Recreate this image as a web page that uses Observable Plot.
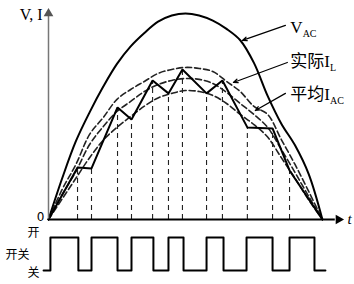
<!DOCTYPE html>
<html><head><meta charset="utf-8">
<script src="https://cdn.jsdelivr.net/npm/d3@7"></script>
<script src="https://cdn.jsdelivr.net/npm/@observablehq/plot@0.6"></script>
<style>
body{margin:0;background:#fff;}
#chart{width:354px;height:284px;}
#chart svg{display:block;overflow:visible;}
</style></head><body><div id="chart"></div>
<script>
// time grid (fraction of half-period)
const tGrid = [0,0.05,0.1,0.15,0.2,0.25,0.3,0.35,0.4,0.45,0.5,0.55,0.6,0.65,0.7,0.75,0.8,0.85,0.9,0.95,1];
// rectified line voltage V_AC
const vAC = [0,0.20,0.38,0.52,0.645,0.755,0.84,0.905,0.96,0.99,1.0,0.99,0.965,0.925,0.87,0.76,0.60,0.465,0.36,0.22,0];
// dashed envelopes (upper ripple, average I_AC, lower ripple)
const upperEnv = [0,0.146,0.267,0.413,0.495,0.583,0.631,0.670,0.709,0.728,0.738,0.733,0.718,0.670,0.621,0.549,0.510,0.388,0.267,0.136,0];
const avgIAC = [0,0.121,0.233,0.364,0.451,0.524,0.573,0.621,0.655,0.675,0.684,0.680,0.660,0.617,0.563,0.510,0.447,0.340,0.228,0.112,0];
const lowerEnv = [0,0.100,0.200,0.300,0.385,0.447,0.500,0.550,0.590,0.612,0.626,0.621,0.602,0.563,0.510,0.461,0.400,0.300,0.200,0.095,0];
// actual inductor current I_L (zigzag vertices)
const iLt = [0,0.106,0.157,0.252,0.303,0.380,0.438,0.489,0.577,0.635,0.726,0.818,0.880,1.0];
const iLv = [0,0.252,0.248,0.544,0.485,0.675,0.612,0.728,0.612,0.675,0.447,0.442,0.238,0];
// switch state (1 = 开 on, 0 = 关 off)
const swT = [-0.018,0.007,0.109,0.157,0.252,0.303,0.383,0.438,0.493,0.577,0.639,0.723,0.818,0.880,0.971,1.011];
const swState = [0,1,0,1,0,1,0,1,0,1,0,1,0,1,0,0];
// labels
const labelMain = ["V", "实际I", "平均I"];
const labelSub = ["AC", "L", "AC"];
const labelT = [0.883, 0.883, 0.883];
const labelV = [0.932, 0.767, 0.607];
// leader arrows
const leaderT1 = [0.865, 0.872, 0.865];
const leaderV1 = [0.942, 0.762, 0.612];
const leaderT2 = [0.708, 0.675, 0.755];
const leaderV2 = [0.869, 0.665, 0.529];

const xMax = 1.077, yMax = 1.024;
const serif = "Liberation Serif, Noto Sans CJK SC, serif";
const cjk = "Noto Sans CJK SC, sans-serif";

const interior = iLt.map((t,i)=>({t, v: iLv[i]})).slice(1, -1);
const labels = labelMain.map((m,i)=>({m, s: labelSub[i], t: labelT[i], v: labelV[i]}));
const leaders = leaderT1.map((t,i)=>({t1: t, v1: leaderV1[i], t2: leaderT2[i], v2: leaderV2[i]}));

const topPlot = Plot.plot({
  width: 354, height: 228,
  marginLeft: 48, marginRight: 11, marginTop: 8, marginBottom: 9,
  x: {domain: [0, xMax], axis: null},
  y: {domain: [0, yMax], axis: null},
  style: {background: "transparent", overflow: "visible"},
  marks: [
    Plot.ruleX(interior, {x: "t", y1: 0, y2: "v", stroke: "#222", strokeWidth: 1.1, strokeDasharray: "5,4"}),
    Plot.line(tGrid, {x: d=>d, y: (d,i)=>upperEnv[i], curve: "catmull-rom", stroke: "#222", strokeWidth: 1.6, strokeDasharray: "6,3"}),
    Plot.line(tGrid, {x: d=>d, y: (d,i)=>avgIAC[i], curve: "catmull-rom", stroke: "#222", strokeWidth: 1.6, strokeDasharray: "6,3"}),
    Plot.line(tGrid, {x: d=>d, y: (d,i)=>lowerEnv[i], curve: "catmull-rom", stroke: "#222", strokeWidth: 1.6, strokeDasharray: "6,3"}),
    Plot.line(tGrid, {x: d=>d, y: (d,i)=>vAC[i], curve: "catmull-rom", stroke: "#000", strokeWidth: 2}),
    Plot.line(iLt, {x: d=>d, y: (d,i)=>iLv[i], stroke: "#000", strokeWidth: 2, strokeLinejoin: "miter"}),
    Plot.ruleX([0], {y1: 0, y2: yMax - 0.03, stroke: "#777", strokeWidth: 1.5}),
    Plot.ruleY([0], {x1: 0, x2: xMax - 0.03, stroke: "#000", strokeWidth: 2}),
    Plot.dot([0], {x: d=>d, y: yMax, dy: 5, symbol: "triangle", r: 3.6, fill: "#555", stroke: "none"}),
    Plot.dot([0], {x: xMax, y: d=>d, dx: -5, symbol: "triangle", rotate: 90, r: 3.6, fill: "#000", stroke: "none"}),
    Plot.arrow(leaders, {x1: "t1", y1: "v1", x2: "t2", y2: "v2", stroke: "#000", strokeWidth: 1.2, headLength: 6, headAngle: 45}),
    Plot.text(labels, {x: "t", y: "v", text: "m", textAnchor: "start", fontFamily: serif, fontSize: 17, fill: "#000"}),
    Plot.text(["V, I"], {x: 0, y: 0.993, text: d=>d, dx: -6, textAnchor: "end", fontFamily: serif, fontSize: 16, fill: "#000"}),
    Plot.text(["0"], {x: 0, y: 0, text: d=>d, dx: -8, dy: -2, textAnchor: "middle", fontFamily: "DejaVu Sans, sans-serif", fontSize: 12, fill: "#000"}),
    Plot.text(["t"], {x: xMax, y: 0, text: d=>d, dx: 4, textAnchor: "start", fontFamily: serif, fontStyle: "italic", fontSize: 15, fill: "#000"})
  ]
});

const bottomPlot = Plot.plot({
  width: 354, height: 56,
  marginLeft: 48, marginRight: 11, marginTop: 9, marginBottom: 14,
  x: {domain: [0, xMax], axis: null},
  y: {domain: [0, 1], axis: null},
  style: {background: "transparent", overflow: "visible"},
  marks: [
    Plot.line(swT, {x: d=>d, y: (d,i)=>swState[i], curve: "step-after", stroke: "#000", strokeWidth: 2}),
    Plot.text(["开"], {x: 0, y: 1, text: d=>d, dx: -15, dy: -4, textAnchor: "middle", fontFamily: cjk, fontSize: 12, fill: "#000"}),
    Plot.text(["开关"], {x: 0, y: 0.5, text: d=>d, dx: -31, dy: 1, textAnchor: "middle", fontFamily: cjk, fontSize: 12, fill: "#000"}),
    Plot.text(["关"], {x: 0, y: 0, text: d=>d, dx: -15, dy: 3, textAnchor: "middle", fontFamily: cjk, fontSize: 12, fill: "#000"})
  ]
});

const chart = document.getElementById("chart");
chart.appendChild(topPlot);
chart.appendChild(bottomPlot);

// add subscripts to the series labels
d3.select(topPlot).selectAll("text").each(function(){
  const el = d3.select(this);
  const k = labelMain.indexOf(this.textContent);
  if (k >= 0) el.append("tspan").attr("dy", 4).attr("font-size", 10).text(labelSub[k]);
});
</script></body></html>
